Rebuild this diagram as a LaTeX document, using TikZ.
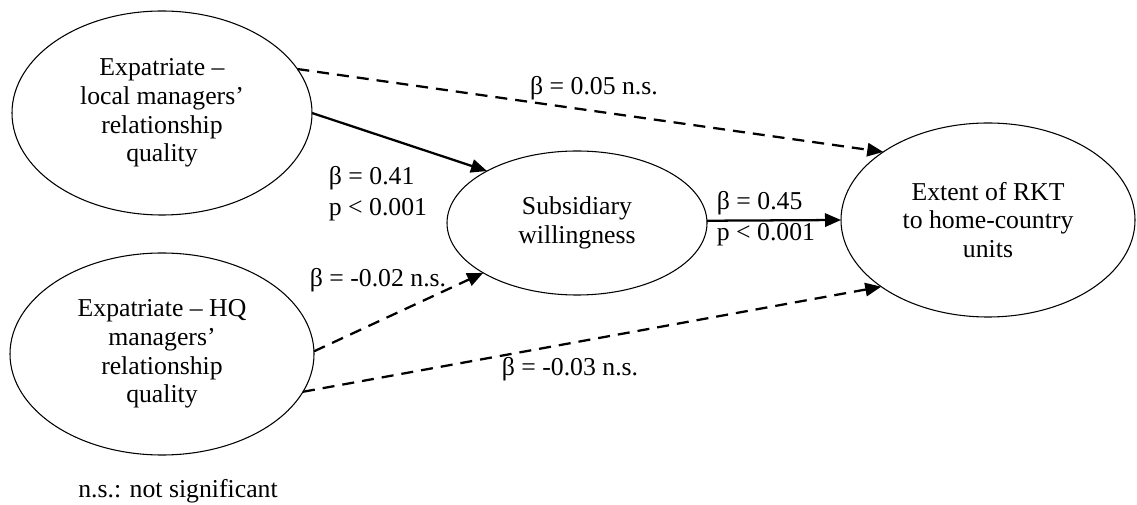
\documentclass[tikz,border=0pt]{standalone}
\usepackage{fontspec}
\setmainfont{Liberation Serif}
\usepackage{tikz}
\usetikzlibrary{arrows.meta, shapes.geometric}

\begin{document}
\begin{tikzpicture}[
  x=0.75pt, y=-0.75pt,
  latent/.style={ellipse, draw, line width=0.8pt, inner sep=0pt, outer sep=0pt,
                 align=center, font=\fontsize{19.3}{21.6}\selectfont},
  pathsolid/.style={line width=1.7pt, -{Triangle[length=12pt, width=10pt]}},
  pathdash/.style={pathsolid, dash pattern=on 9pt off 6pt},
  coef/.style={inner sep=0pt, align=left, font=\fontsize{19.3}{23}\selectfont},
]
\useasboundingbox (0,0) rectangle (1137,505);
% --- constructs ---
\node[latent, minimum width=300*0.75pt, minimum height=204*0.75pt] (loc) at (162,113)
  {Expatriate --\\local managers'\\relationship\\quality};
\node[latent, minimum width=304*0.75pt, minimum height=202*0.75pt] (hq) at (162,354)
  {Expatriate -- HQ\\managers'\\relationship\\quality};
\node[latent, minimum width=260*0.75pt, minimum height=144*0.75pt] (sw) at (577,223)
  {Subsidiary\\willingness};
\node[latent, minimum width=294*0.75pt, minimum height=194*0.75pt] (rkt) at (988,220)
  {Extent of RKT\\to home-country\\units};
% --- paths ---
\draw[pathdash] (loc.18) -- (rkt.147);
\draw[pathsolid] (loc.0) -- (sw.150);
\draw[pathdash] (hq.1) -- (sw.208);
\draw[pathdash] (hq.-15) -- (rkt.212);
\draw[pathsolid] (sw.1.3) -- (rkt.180);
% --- coefficients ---
\node[coef, anchor=base] (b1) at (594,95) {β = 0.05 n.s.};
\node[coef] (b2) at (378,194) {β = 0.41\\p < 0.001};
\node[coef, anchor=base] (b3) at (378,287) {β = -0.02 n.s.};
\node[coef] (b4) at (766,219) {β = 0.45\\p < 0.001};
\node[coef, anchor=base] (b5) at (570,375) {β = -0.03 n.s.};
\node[coef, anchor=base west] (note) at (78,497) {n.s.: not significant};
\end{tikzpicture}
\end{document}
